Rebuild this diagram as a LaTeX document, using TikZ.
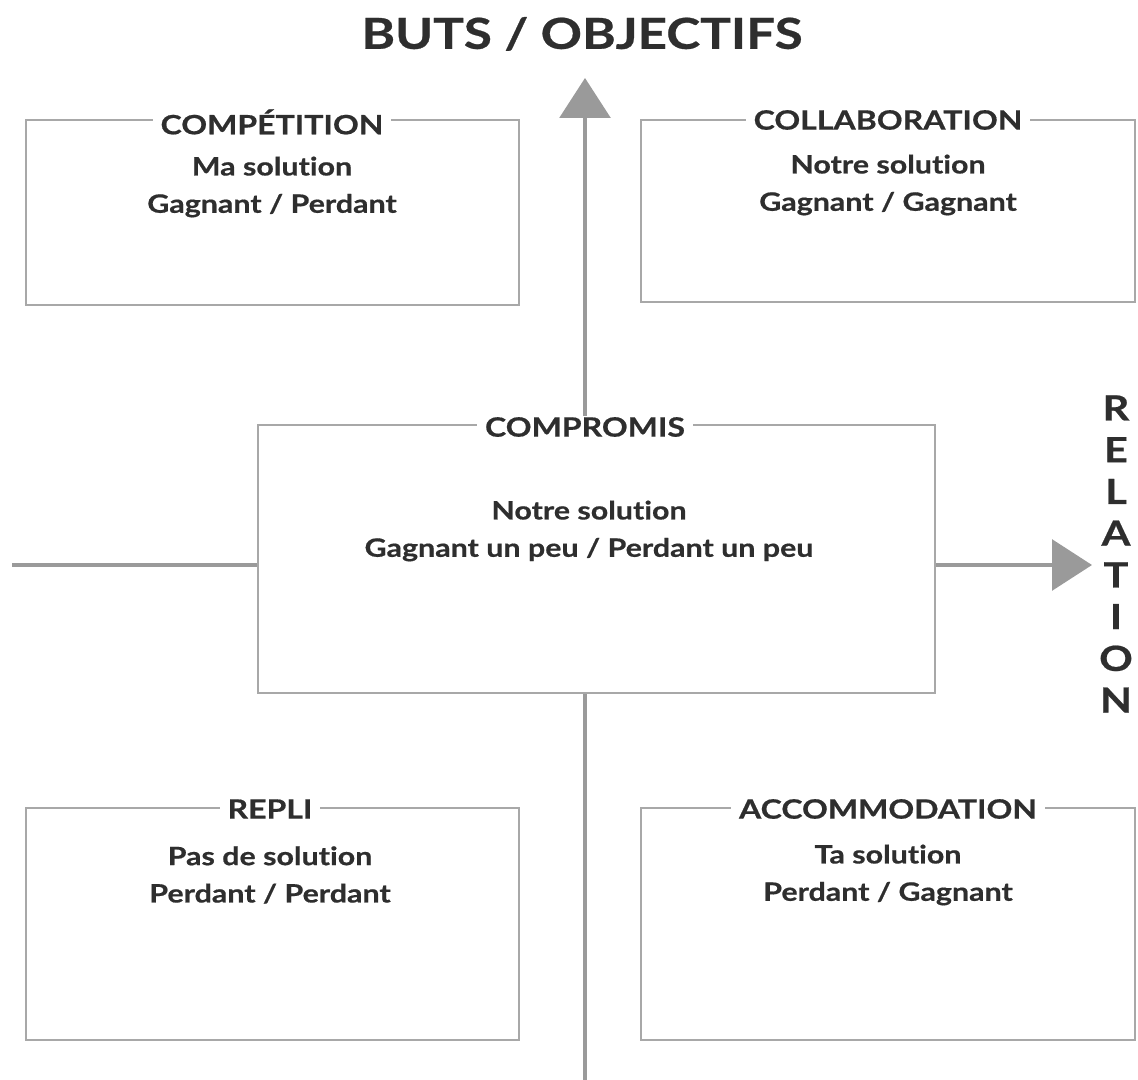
\documentclass[tikz,border=0pt]{standalone}
\usepackage{fontspec}
\setmainfont{Lato}[FakeStretch=1.2,Ligatures=NoCommon,BoldFeatures={FakeBold=0.6}]
\usetikzlibrary{arrows.meta,fit}
\definecolor{axisgray}{HTML}{9A9A9A}
\definecolor{boxgray}{HTML}{A8A8A8}
\definecolor{txt}{HTML}{2E2E2E}
\tikzset{
  quad/.style={draw=boxgray, line width=2pt, inner sep=0pt},
  boxtitle/.style={fill=white, inner xsep=6pt, inner ysep=1pt, text=txt, font=\fontsize{20}{23}\selectfont\bfseries},
  boxtext/.style={align=center, text=txt, font=\fontsize{19}{28}\selectfont\bfseries},
  axisline/.style={draw=axisgray, line width=3pt},
  axisarrow/.style={axisline, -{Triangle[width=38pt,length=30pt]}},
  bigtitle/.style={text=txt, font=\fontsize{32}{35}\selectfont\bfseries}
}
\begin{document}
\begin{tikzpicture}[x=0.75pt,y=-0.75pt]
\useasboundingbox (0,0) rectangle (1138,1080);
% boxes
\node[quad, fit={(26,120) (519,305)}] (comp) {};
\node[quad, fit={(641,120) (1135,302)}] (collab) {};
\node[quad, fit={(258,425) (935,693)}] (cpr) {};
\node[quad, fit={(26,808) (519,1040)}] (repli) {};
\node[quad, fit={(641,808) (1135,1040)}] (accom) {};
% axis coordinates
\coordinate (top) at (585,78);
\coordinate (bot) at (585,1080);
\coordinate (lft) at (12,565);
\coordinate (rgt) at (1092,565);
% axes
\draw[axisarrow] (cpr.north -| top) -- (top);
\draw[axisline] (cpr.south -| bot) -- (bot);
\draw[axisline] (lft) -- (lft -| cpr.west);
\draw[axisarrow] (rgt -| cpr.east) -- (rgt);
% titles
\node[boxtitle] (t1) at (272,122) {COMPÉTITION};
\node[boxtitle] (t2) at (888,120) {COLLABORATION};
\node[boxtitle] (t3) at (585,427) {COMPROMIS};
\node[boxtitle] (t4) at (270,809) {REPLI};
\node[boxtitle] (t5) at (888,809) {ACCOMMODATION};
% texts
\node[boxtext] (x1) at (272,187) {Ma solution\\Gagnant / Perdant};
\node[boxtext] (x2) at (888,185) {Notre solution\\Gagnant / Gagnant};
\node[boxtext] (x3) at (589,531) {Notre solution\\Gagnant un peu / Perdant un peu};
\node[boxtext] (x4) at (270,875) {Pas de solution\\Perdant / Perdant};
\node[boxtext] (x5) at (888,875) {Ta solution\\Perdant / Gagnant};
% axis labels
\node[bigtitle] (buts) at (582,34) {BUTS / OBJECTIFS};
\node[bigtitle, align=center, font=\fontsize{26}{31.3}\selectfont\bfseries] (rel) at (1116,554) {R\\E\\L\\A\\T\\I\\O\\N};
\end{tikzpicture}
\end{document}
